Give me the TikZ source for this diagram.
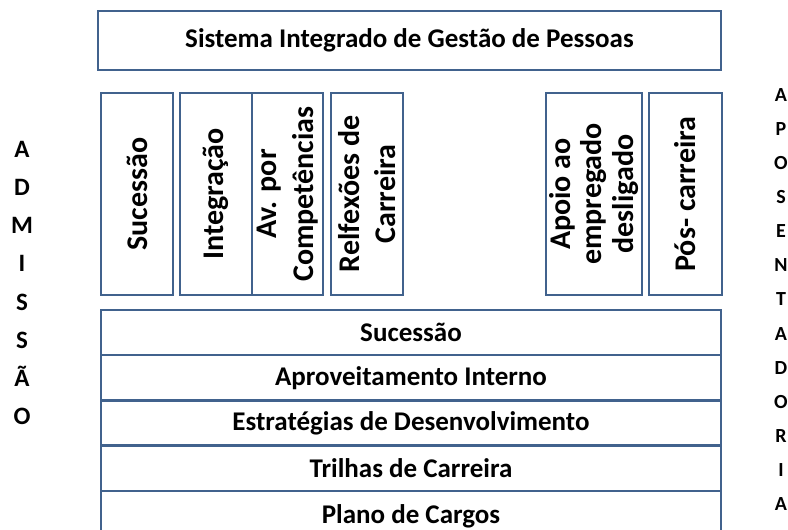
\documentclass[tikz,border=0pt]{standalone}
\usepackage{fontspec}
\setmainfont{Carlito}
\definecolor{boxblue}{RGB}{65,98,141}

\begin{document}
\begin{tikzpicture}[
			x=1pt, y=-1pt,
			box/.style={draw=boxblue, line width=2.4pt, rectangle, inner sep=0pt, outer sep=0pt,
				font=\bfseries\fontsize{27}{32}\selectfont},
			vbox/.style={box, rotate=90, minimum width=202, minimum height=72, align=center,
				font=\bfseries\fontsize{30}{36.6}\selectfont},
			rowbox/.style={box, minimum width=620, minimum height=45.2},
			letters/.style={align=center, inner sep=0pt, font=\bfseries#1},
			letters/.default=\fontsize{25}{38.2}\selectfont
			]
			\useasboundingbox (0,0) rectangle (788,530);
			
			% Title
			\node[box, minimum width=623, minimum height=59] (sistema) at (409.5,40.5)
				{Sistema Integrado de Gestão de Pessoas};
			
			% Vertical boxes
			\node[vbox] (sucV) at (137,194) {Sucessão};
			\node[vbox] (integ) at (216,194) {Integração};
			\node[vbox, minimum height=71] (avcomp) at (287.5,194) {Av. por\\Competências};
			\node[vbox] (reflex) at (367,194) {Relfexões de\\Carreira};
			\node[vbox, minimum height=96, font=\bfseries\fontsize{30}{31.5}\selectfont] (apoio) at (594,194)
				{Apoio ao\\empregado\\desligado};
			\node[vbox, minimum height=73] (pos) at (685.5,194) {Pós- carreira};
			
			% Stack of rows
			\node[rowbox] (sucH) at (411,332.5) {Sucessão};
			\node[rowbox, anchor=north] (aprov) at (sucH.south) {Aproveitamento Interno};
			\node[rowbox, anchor=north] (estrat) at (aprov.south) {Estratégias de Desenvolvimento};
			\node[rowbox, anchor=north] (trilhas) at (estrat.south) {Trilhas de Carreira};
			\node[rowbox, anchor=north, minimum height=52] (plano) at (trilhas.south) {Plano de Cargos};
			
			% Side words
			\node[letters] (admissao) at (22,283) {A\\D\\M\\I\\S\\S\\Ã\\O};
			\node[letters=\fontsize{20}{34.1}\selectfont] (aposent) at (781,299.5)
				{A\\P\\O\\S\\E\\N\\T\\A\\D\\O\\R\\I\\A};
		\end{tikzpicture}
\end{document}
